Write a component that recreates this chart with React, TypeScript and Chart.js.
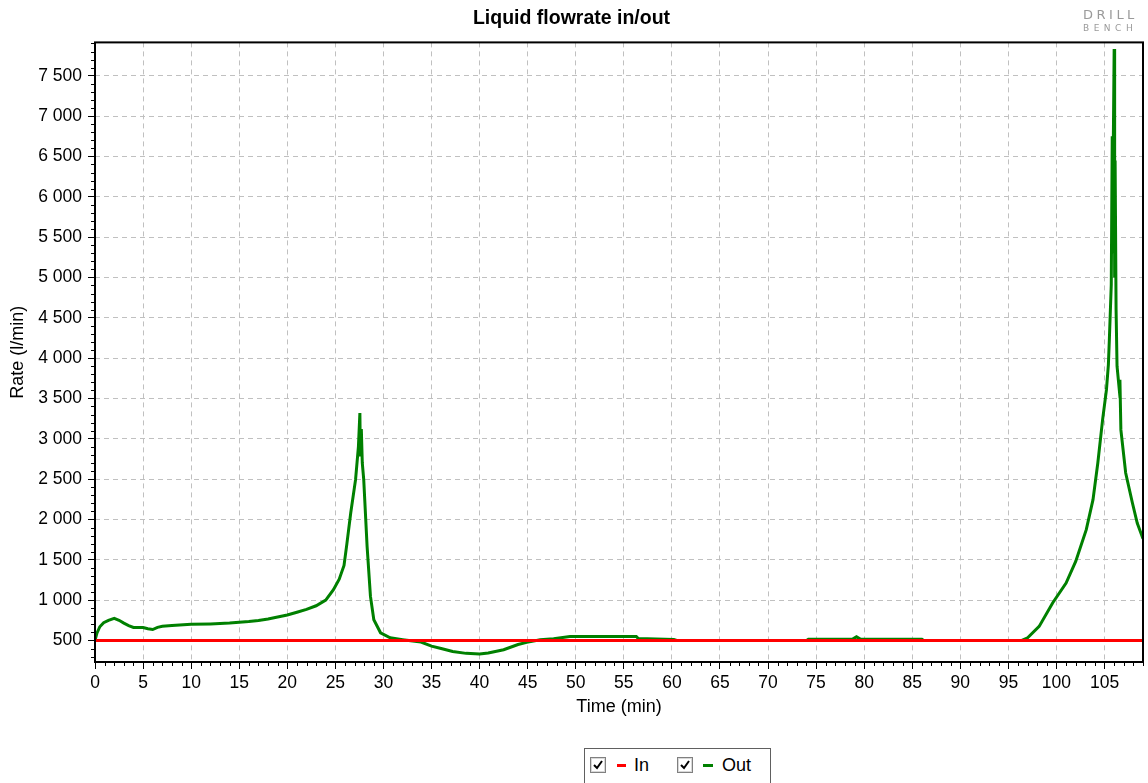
import React, { useEffect, useRef } from 'react';
import { Chart, registerables } from 'chart.js';

Chart.register(...registerables);

const chartTitle = 'Liquid flowrate in/out';
const xTitle = 'Time (min)';
const yTitle = 'Rate (l/min)';

const xTicks = [0, 5, 10, 15, 20, 25, 30, 35, 40, 45, 50, 55, 60, 65, 70, 75, 80, 85, 90, 95, 100, 105];
const yTicks = [500, 1000, 1500, 2000, 2500, 3000, 3500, 4000, 4500, 5000, 5500, 6000, 6500, 7000, 7500];

const timeIn = [0, 109];
const rateIn = [500, 500];

const timeOut = [
  0, 0.2, 0.5, 0.9, 1.4, 2.0, 2.5, 3.0, 3.5, 4.0, 5.0, 5.5, 6.0, 6.5, 7.0, 8.0,
  10, 12, 14, 15, 16, 17, 18, 19, 20, 21, 22, 23, 24, 24.8, 25.4, 25.9, 26.2, 26.6,
  27.1, 27.4, 27.55, 27.6, 27.7, 27.8, 27.95, 28.3, 28.65, 29.0, 29.7, 30.7, 32,
  33.9, 35, 36, 37.2, 38.6, 40, 40.9, 42.5, 44, 44.9, 46.3, 47.7, 49.4, 56.3, 56.5,
  60.2, 60.5, 74, 74.2, 78.8, 79.2, 79.6, 86, 86.2, 96.4, 97.0, 98.2, 99.6, 101.0,
  102.0, 103.1, 103.8, 104.3, 104.8, 105.2, 105.4, 105.5, 105.7, 105.8, 105.85,
  105.9, 106.0, 106.05, 106.1, 106.2, 106.3, 106.5, 106.6, 106.7, 107.2, 107.9,
  108.4, 109,
];
const rateOut = [
  500, 590, 670, 720, 750, 775, 750, 715, 685, 662, 660, 645, 635, 662, 675, 685,
  700, 705, 715, 725, 735, 748, 765, 790, 815, 850, 885, 930, 1000, 1130, 1260, 1430,
  1700, 2083, 2493, 2906, 3320, 2780, 3120, 2700, 2493, 1666, 1046, 757, 595, 533,
  510, 480, 430, 400, 364, 340, 333, 344, 385, 450, 476, 509, 521, 550, 550, 525,
  512, 500, 500, 515, 518, 545, 518, 515, 500, 500, 533, 674, 964, 1212, 1480, 1873,
  2245, 2700, 3237, 3609, 3919, 4229, 4911, 6750, 5300, 6500, 7830, 5000, 6450,
  4600, 3900, 3650, 3730, 3110, 2576, 2204, 1956, 1760,
];

const FONT = '"Liberation Sans", Arial, sans-serif';

const fmt = (v: number) => String(v).replace(/\B(?=(\d{3})+(?!\d))/g, ' ');

const framePlugin = {
  id: 'frame',
  afterDraw(chart: any) {
    const { ctx, chartArea: a, scales } = chart;
    const x = scales.x;
    const y = scales.y;
    ctx.save();
    ctx.strokeStyle = '#000';
    ctx.lineWidth = 1;
    ctx.beginPath();
    for (let t = 0; t <= 109; t++) {
      if (t % 5 === 0) continue;
      const px = Math.round(x.getPixelForValue(t)) + 0.5;
      ctx.moveTo(px, a.bottom);
      ctx.lineTo(px, a.bottom + 4);
    }
    for (let v = 300; v <= 7900; v += 100) {
      if (v % 500 === 0) continue;
      const py = Math.round(y.getPixelForValue(v)) + 0.5;
      ctx.moveTo(a.left - 4, py);
      ctx.lineTo(a.left, py);
    }
    ctx.stroke();
    ctx.lineWidth = 2;
    ctx.strokeRect(a.left, a.top, a.right - a.left, a.bottom - a.top);
    ctx.restore();
  },
};

function CheckBox({ left }: { left: number }) {
  return (
    <div
      style={{
        position: 'absolute',
        left,
        top: 757,
        width: 14,
        height: 14,
        border: '1px solid #808080',
        boxShadow: 'inset 0 0 0 1px #d8d8d8',
        background: '#fff',
      }}
    >
      <svg width="14" height="14" style={{ position: 'absolute', left: 0, top: 0 }}>
        <polyline points="3,7 6,10 11,3" fill="none" stroke="#000" strokeWidth="2" />
      </svg>
    </div>
  );
}

export default function App() {
  const canvasRef = useRef<HTMLCanvasElement | null>(null);

  useEffect(() => {
    const canvas = canvasRef.current;
    if (!canvas) return;
    const chart = new Chart(canvas, {
      type: 'line',
      data: {
        datasets: [
          {
            label: 'In',
            data: timeIn.map((t, i) => ({ x: t, y: rateIn[i] })),
            borderColor: '#ff0000',
            backgroundColor: '#ff0000',
            borderWidth: 3,
            pointRadius: 0,
            tension: 0,
          },
          {
            label: 'Out',
            data: timeOut.map((t, i) => ({ x: t, y: rateOut[i] })),
            borderColor: '#008000',
            backgroundColor: '#008000',
            borderWidth: 3,
            pointRadius: 0,
            tension: 0,
          },
        ],
      },
      options: {
        animation: false,
        responsive: false,
        maintainAspectRatio: false,
        layout: { padding: { left: 0, right: 5, top: 0, bottom: 61 } },
        plugins: {
          legend: { display: false },
          tooltip: { enabled: false },
          title: {
            display: true,
            text: chartTitle,
            color: '#000',
            font: { family: FONT, size: 19.5, weight: 'bold' },
            padding: { top: 7, bottom: 12 },
          },
        },
        scales: {
          x: {
            type: 'linear',
            min: 0,
            max: 109,
            afterFit: (s: any) => {
              s.height = 60;
            },
            afterBuildTicks: (s: any) => {
              s.ticks = xTicks.map((value) => ({ value }));
            },
            ticks: {
              autoSkip: false,
              maxRotation: 0,
              padding: 4,
              color: '#000',
              font: { family: FONT, size: 17.5 },
              callback: (v: any) => String(v),
            },
            grid: {
              color: '#c0c0c0',
              lineWidth: 1,
              tickLength: 7,
              tickColor: '#000',
              drawTicks: true,
            },
            border: { display: false, dash: [5, 4] },
            title: {
              display: true,
              text: xTitle,
              color: '#000',
              font: { family: FONT, size: 18 },
              padding: { top: 4, bottom: 4 },
            },
          },
          y: {
            type: 'linear',
            min: 233,
            max: 7913,
            afterFit: (s: any) => {
              s.width = 95;
            },
            afterBuildTicks: (s: any) => {
              s.ticks = yTicks.map((value) => ({ value }));
            },
            ticks: {
              padding: 6,
              color: '#000',
              font: { family: FONT, size: 17.5 },
              callback: (v: any) => fmt(Number(v)),
            },
            grid: {
              color: '#c0c0c0',
              lineWidth: 1,
              tickLength: 7,
              tickColor: '#000',
              drawTicks: true,
            },
            border: { display: false, dash: [5, 4] },
            title: {
              display: true,
              text: yTitle,
              color: '#000',
              font: { family: FONT, size: 18 },
              padding: { top: 7, bottom: 4 },
            },
          },
        },
      },
      plugins: [framePlugin],
    } as any);
    return () => chart.destroy();
  }, []);

  return (
    <div
      style={{
        position: 'absolute',
        left: 0,
        top: 0,
        width: 1148,
        height: 783,
        overflow: 'hidden',
        background: '#fff',
        fontFamily: FONT,
      }}
    >
      <canvas ref={canvasRef} width={1148} height={783} style={{ display: 'block' }} />
      <div
        style={{
          position: 'absolute',
          left: 1083,
          top: 8,
          fontFamily: '"DejaVu Sans", sans-serif',
          fontSize: 13,
          lineHeight: '14px',
          letterSpacing: 3.5,
          color: '#9a9a9a',
          whiteSpace: 'nowrap',
        }}
      >
        DRILL
      </div>
      <div
        style={{
          position: 'absolute',
          left: 1083,
          top: 23,
          fontFamily: '"DejaVu Sans", sans-serif',
          fontSize: 9,
          lineHeight: '10px',
          letterSpacing: 4.5,
          color: '#9a9a9a',
          whiteSpace: 'nowrap',
        }}
      >
        BENCH
      </div>
      <div
        style={{
          position: 'absolute',
          left: 584,
          top: 748,
          width: 185,
          height: 45,
          border: '1px solid #606060',
          background: '#fff',
        }}
      />
      <CheckBox left={590} />
      <div style={{ position: 'absolute', left: 617, top: 764, width: 9, height: 3, background: '#ff0000' }} />
      <div style={{ position: 'absolute', left: 634, top: 754, fontSize: 18, lineHeight: '22px', color: '#000' }}>In</div>
      <CheckBox left={677} />
      <div style={{ position: 'absolute', left: 703, top: 764, width: 10, height: 3, background: '#008000' }} />
      <div style={{ position: 'absolute', left: 722, top: 754, fontSize: 18, lineHeight: '22px', color: '#000' }}>Out</div>
    </div>
  );
}
